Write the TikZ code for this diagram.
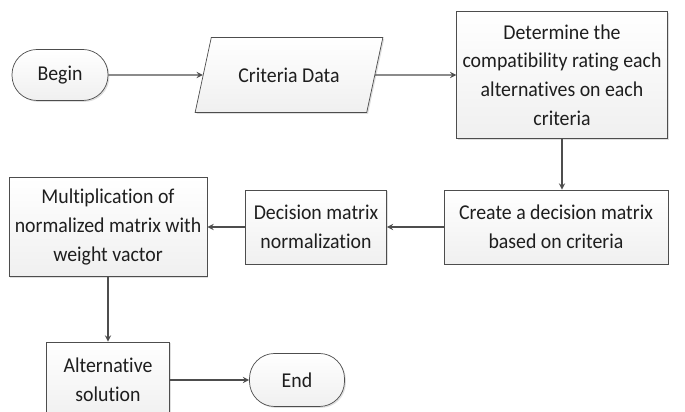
\documentclass[tikz,border=0pt]{standalone}
\usepackage{fontspec}
\setmainfont{Carlito}[FakeStretch=0.94, Ligatures=NoCommon]
\usetikzlibrary{shapes.geometric, arrows, shadows}
\definecolor{edge}{HTML}{4D4D4D}
\definecolor{ink}{HTML}{1E1E1E}
\tikzstyle{startstop} = [rectangle, rounded corners=0.5cm, 
minimum width=1.92cm, 
minimum height=1.02cm,
text centered, 
draw=edge, 
top color=white, bottom color=gray!12,
drop shadow={shadow xshift=0.8pt, shadow yshift=-0.8pt, opacity=0.25}]
\tikzstyle{io} = [trapezium, 
trapezium stretches=true, 
trapezium left angle=66, 
trapezium right angle=114, 
minimum width=3.78cm, 
minimum height=1.5cm, text centered, 
draw=edge, top color=white, bottom color=gray!12,
drop shadow={shadow xshift=0.8pt, shadow yshift=-0.8pt, opacity=0.25}]
\tikzstyle{process} = [rectangle, 
align=center,
draw=edge, 
top color=white, bottom color=gray!12,
drop shadow={shadow xshift=0.8pt, shadow yshift=-0.8pt, opacity=0.25}]
\tikzstyle{arrow} = [line width=0.6pt, draw=edge, ->, >=stealth]

\begin{document}
\begin{tikzpicture} [node distance=2cm, font=\fontsize{12}{16.3}\selectfont, text=ink]
		\clip (0,0) rectangle (13.7,-8.24);
		\useasboundingbox (0,0) rectangle (13.7,-8.24);
		\node (begin) [startstop] at (1.2,-1.5) {Begin};
		\node (data) [io, right of=begin, node distance=4.58cm] {Criteria Data};
		\node (rating) [process, right of=data, node distance=5.46cm, minimum width=4.2cm, minimum height=2.54cm] {Determine the\\compatibility rating each\\alternatives on each\\criteria};
		\node (create) [process, below of=rating, node distance=3.04cm, xshift=-0.12cm, minimum width=4.48cm, minimum height=1.48cm] {Create a decision matrix\\based on criteria};
		\node (norm) [process, left of=create, node distance=4.8cm, minimum width=2.82cm, minimum height=1.48cm] {Decision matrix\\normalization};
		\node (mult) [process, left of=norm, node distance=4.16cm, minimum width=3.68cm, minimum height=1.98cm] {Multiplication of\\normalized matrix with\\weight vactor};
		\node (alt) [process, below of=mult, node distance=3.06cm, minimum width=2.46cm, minimum height=1.52cm] {Alternative\\solution};
		\node (end) [startstop, right of=alt, node distance=3.78cm, minimum width=1.9cm, minimum height=1.06cm] {End};
		\draw [arrow] (begin) -- (data);
		\draw [arrow] (data) -- (rating);
		\draw [arrow] (rating.south) -- (rating.south |- create.north);
		\draw [arrow] (create) -- (norm);
		\draw [arrow] (norm) -- (mult);
		\draw [arrow] (mult) -- (alt);
		\draw [arrow] (alt) -- (end);
	\end{tikzpicture}
\end{document}
